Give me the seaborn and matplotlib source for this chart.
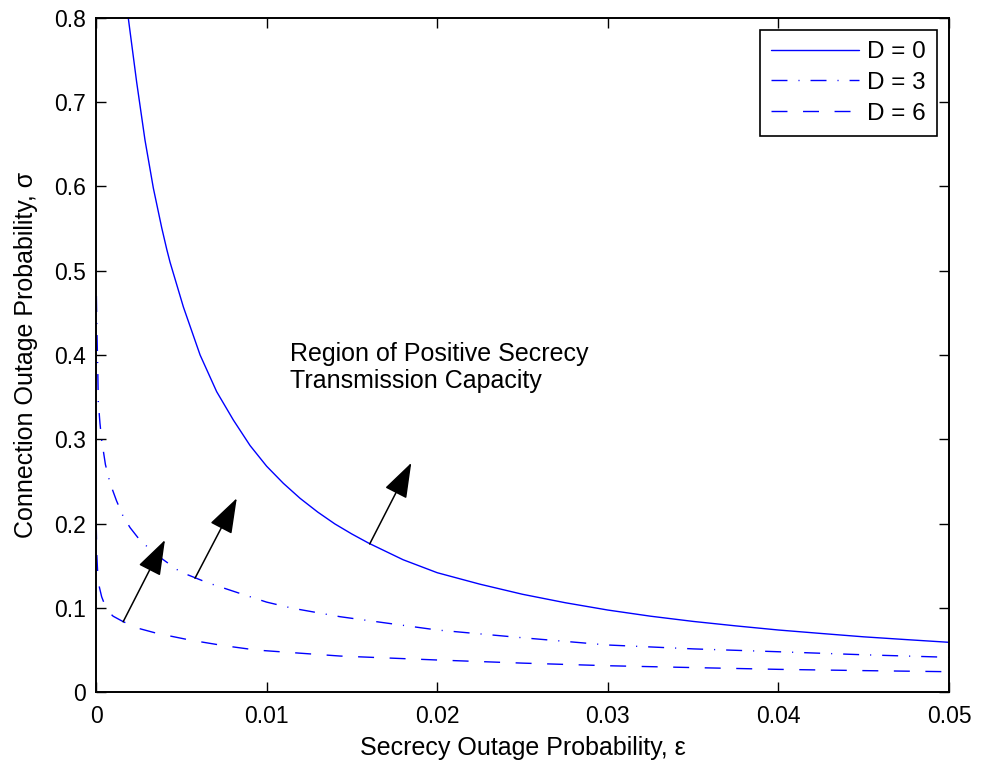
import matplotlib
matplotlib.use("Agg")
import matplotlib.pyplot as plt
import seaborn as sns
import pandas as pd

# ---- data ----
eps_d0 = [0.00189, 0.00238, 0.00287, 0.00336, 0.00385, 0.00415, 0.00434, 0.00512,
          0.0061, 0.00707, 0.00805, 0.00903, 0.0100, 0.01098, 0.01196, 0.0130,
          0.0140, 0.0150, 0.0160, 0.0180, 0.0200, 0.0225, 0.0250, 0.0275,
          0.0300, 0.0325, 0.0350, 0.0375, 0.0400, 0.0425, 0.0450, 0.0475, 0.0500]
sig_d0 = [0.800, 0.724, 0.655, 0.598, 0.551, 0.525, 0.510, 0.457,
          0.400, 0.3565, 0.3228, 0.2925, 0.2680, 0.2477, 0.2299, 0.2135,
          0.1995, 0.1875, 0.1765, 0.157, 0.1416, 0.128, 0.116, 0.106,
          0.0973, 0.090, 0.0838, 0.0785, 0.0736, 0.0695, 0.0655, 0.0622, 0.059]

eps_d3 = [0.00002, 0.00005, 0.0001, 0.00013, 0.00023, 0.00033, 0.00055, 0.00082,
          0.0012, 0.0016, 0.0020, 0.00258, 0.00356, 0.00492, 0.0065, 0.00844,
          0.0100, 0.0115, 0.0143, 0.0200, 0.0250, 0.0300, 0.0350, 0.0400,
          0.0450, 0.0500]
sig_d3 = [0.470, 0.430, 0.385, 0.345, 0.319, 0.299, 0.270, 0.248,
          0.227, 0.208, 0.195, 0.180, 0.1626, 0.1428, 0.130, 0.117,
          0.1067, 0.0995, 0.0894, 0.0736, 0.0644, 0.0558, 0.0512, 0.0478,
          0.0442, 0.0412]

eps_d6 = [0.00001, 0.00004, 0.0001, 0.0002, 0.00033, 0.00063, 0.0010, 0.0016,
          0.0025, 0.00356, 0.0055, 0.0075, 0.0094, 0.0143, 0.0200, 0.0250,
          0.0300, 0.0350, 0.0400, 0.0450, 0.0500]
sig_d6 = [0.200, 0.165, 0.140, 0.124, 0.113, 0.0973, 0.090, 0.0834,
          0.0755, 0.0697, 0.0617, 0.055, 0.0498, 0.0427, 0.038, 0.0343,
          0.0312, 0.029, 0.0269, 0.0254, 0.0241]

labels = ["D = 0", "D = 3", "D = 6"]
x_ticks = [0, 0.01, 0.02, 0.03, 0.04, 0.05]
x_tick_labels = ["0", "0.01", "0.02", "0.03", "0.04", "0.05"]
y_ticks = [0, 0.1, 0.2, 0.3, 0.4, 0.5, 0.6, 0.7, 0.8]
y_tick_labels = ["0", "0.1", "0.2", "0.3", "0.4", "0.5", "0.6", "0.7", "0.8"]

arrow_tails = [(0.00159, 0.0834), (0.0058, 0.135), (0.01604, 0.1757)]
arrow_tips = [(0.00404, 0.1804), (0.00825, 0.230), (0.01848, 0.272)]

# ---- build frame ----
frames = []
for lab, ex, sy in zip(labels, [eps_d0, eps_d3, eps_d6], [sig_d0, sig_d3, sig_d6]):
    frames.append(pd.DataFrame({"eps": ex, "sigma": sy, "D": lab}))
df = pd.concat(frames, ignore_index=True)

sns.set_style("ticks")
plt.rcParams["font.family"] = ["Liberation Sans", "DejaVu Sans"]
plt.rcParams["text.color"] = "black"
plt.rcParams["axes.labelcolor"] = "black"

fig = plt.figure(figsize=(9.82, 7.65), dpi=100)
ax = fig.add_axes([0.0978, 0.0954, 0.9664 - 0.0978, 0.9765 - 0.0954])

dash_styles = {"D = 0": "", "D = 3": (11.5, 7.9, 0.8, 7.9), "D = 6": (11.5, 11.2)}
sns.lineplot(data=df, x="eps", y="sigma", hue="D", style="D", sort=False,
             palette={l: "#0000ff" for l in labels}, dashes=dash_styles,
             linewidth=1.0, ax=ax, legend=True, estimator=None)

ax.set_xlim(0, 0.05)
ax.set_ylim(0, 0.8)
ax.set_xticks(x_ticks)
ax.set_xticklabels(x_tick_labels)
ax.set_yticks(y_ticks)
ax.set_yticklabels(y_tick_labels)
ax.tick_params(direction="in", length=7, width=1, top=True, right=True,
               labelsize=16.5, colors="black")
ax.tick_params(axis="x", pad=9)
ax.tick_params(axis="y", pad=7)
for s in ax.spines.values():
    s.set_visible(True)
    s.set_linewidth(1.4)
    s.set_color("black")

ax.set_xlabel("Secrecy Outage Probability, ε", fontsize=18, labelpad=6)
ax.set_ylabel("Connection Outage Probability, σ", fontsize=18, labelpad=12)

ax.text(0.01137, 0.385, "Region of Positive Secrecy\nTransmission Capacity",
        fontsize=18, ha="left", va="center", linespacing=1.15)

for (tx, ty), (hx, hy) in zip(arrow_tails, arrow_tips):
    ax.annotate("", xy=(hx, hy), xytext=(tx, ty),
                arrowprops=dict(arrowstyle="-|>,head_length=1.3,head_width=0.45",
                                color="black", lw=1.1, mutation_scale=17,
                                shrinkA=0, shrinkB=0))

leg = ax.legend(loc="upper right", fontsize=17.5, frameon=True, fancybox=False,
                edgecolor="black", handlelength=3.6, borderpad=0.45,
                labelspacing=0.36, handletextpad=0.35, borderaxespad=0.5)
leg.get_frame().set_linewidth(1.2)
leg.get_frame().set_alpha(1)

fig.savefig("out.png", dpi=100, facecolor="white")
